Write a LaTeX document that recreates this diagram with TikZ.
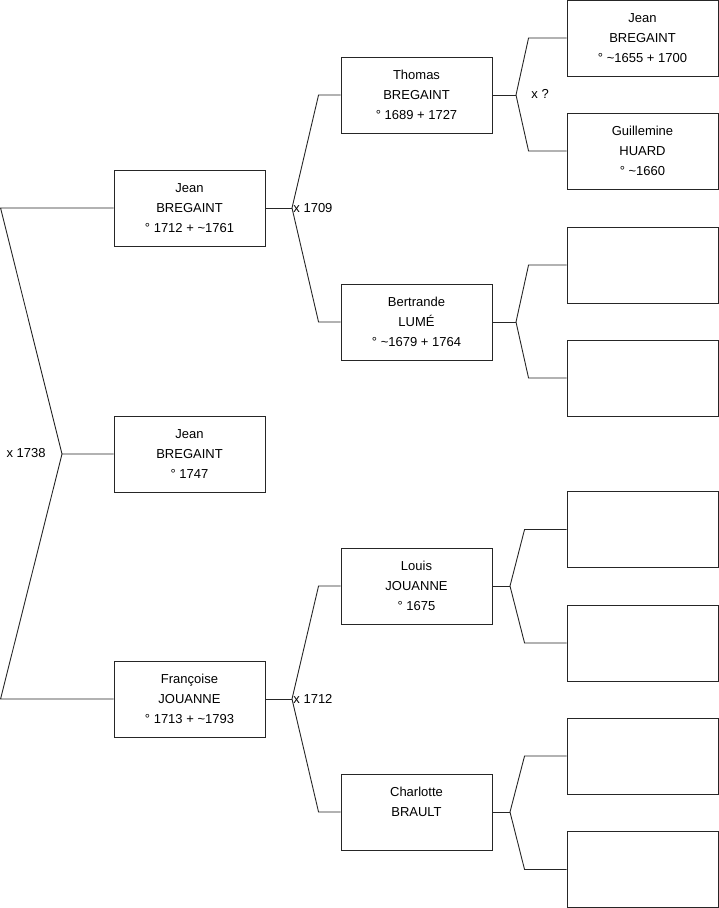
\documentclass[tikz,border=0pt]{standalone}
\usepackage{fontspec}
\setmainfont{Liberation Sans}
\usetikzlibrary{positioning}

\begin{document}
\begin{tikzpicture}[x=1pt, y=-1pt, line width=0.9pt,
    person/.style={rectangle, draw=black!85, minimum width=151pt, minimum height=76pt, inner sep=0pt, align=center, font=\fontsize{13}{20}\selectfont},
    wedding/.style={inner sep=1pt, font=\fontsize{13}{16}\selectfont},
    link/.style={draw=black!85}
]
    \useasboundingbox (0,0) rectangle (719,908);

    % Place nodes
    \node [person] (jean) at (189.5,208) {Jean\\BREGAINT\\° 1712 + \textasciitilde 1761};
    \node [person] (child) at (189.5,454) {Jean\\BREGAINT\\° 1747};
    \node [person] (francoise) at (189.5,699) {Françoise\\JOUANNE\\° 1713 + \textasciitilde 1793};

    \node [person] (thomas) at (416.5,95) {Thomas\\BREGAINT\\° 1689 + 1727};
    \node [person] (bertrande) at (416.5,322) {Bertrande\\LUMÉ\\° \textasciitilde 1679 + 1764};
    \node [person] (louis) at (416.5,586) {Louis\\JOUANNE\\° 1675};
    \node [person] (charlotte) at (416.5,812) {Charlotte\\BRAULT\\\phantom{°}};

    \node [person] (thomasF) at (642.5,38) {Jean\\BREGAINT\\° \textasciitilde 1655 + 1700};
    \node [person] (thomasM) at (642.5,151) {Guillemine\\HUARD\\° \textasciitilde 1660};
    \node [person] (bertrandeF) at (642.5,265) {};
    \node [person] (bertrandeM) at (642.5,378) {};
    \node [person] (louisF) at (642.5,529.5) {};
    \node [person] (louisM) at (642.5,643) {};
    \node [person] (charlotteF) at (642.5,756) {};
    \node [person] (charlotteM) at (642.5,869.5) {};

    % Forks
    \coordinate (root) at (62,454);
    \coordinate (xJean) at (292,208);
    \coordinate (xFrancoise) at (292,699);
    \coordinate (xThomas) at (516,95);
    \coordinate (xBertrande) at (516,322);
    \coordinate (xLouis) at (510,586);
    \coordinate (xCharlotte) at (510,812);

    % Marriages
    \node [wedding, anchor=east] (m1738) at (47,453) {x 1738};
    \node [wedding, anchor=west] (m1709) at (xJean) {x 1709};
    \node [wedding, anchor=west] (m1712) at (xFrancoise) {x 1712};
    \node [wedding, anchor=west] (mThomas) at (530,94) {x ?};

    % Draw edges
    \draw [link] (jean.west) -- ++(-113,0) -- (root) -- (child.west);
    \draw [link] (francoise.west) -- ++(-113,0) -- (root);

    \draw [link] (jean.east) -- (xJean);
    \draw [link] (thomas.west) -- ++(-22,0) -- (xJean);
    \draw [link] (bertrande.west) -- ++(-22,0) -- (xJean);
    \draw [link] (francoise.east) -- (xFrancoise);
    \draw [link] (louis.west) -- ++(-22,0) -- (xFrancoise);
    \draw [link] (charlotte.west) -- ++(-22,0) -- (xFrancoise);

    \draw [link] (thomas.east) -- (xThomas);
    \draw [link] (thomasF.west) -- ++(-38,0) -- (xThomas);
    \draw [link] (thomasM.west) -- ++(-38,0) -- (xThomas);
    \draw [link] (bertrande.east) -- (xBertrande);
    \draw [link] (bertrandeF.west) -- ++(-38,0) -- (xBertrande);
    \draw [link] (bertrandeM.west) -- ++(-38,0) -- (xBertrande);
    \draw [link] (louis.east) -- (xLouis);
    \draw [link] (louisF.west) -- ++(-42,0) -- (xLouis);
    \draw [link] (louisM.west) -- ++(-42,0) -- (xLouis);
    \draw [link] (charlotte.east) -- (xCharlotte);
    \draw [link] (charlotteF.west) -- ++(-42,0) -- (xCharlotte);
    \draw [link] (charlotteM.west) -- ++(-42,0) -- (xCharlotte);
\end{tikzpicture}
\end{document}
